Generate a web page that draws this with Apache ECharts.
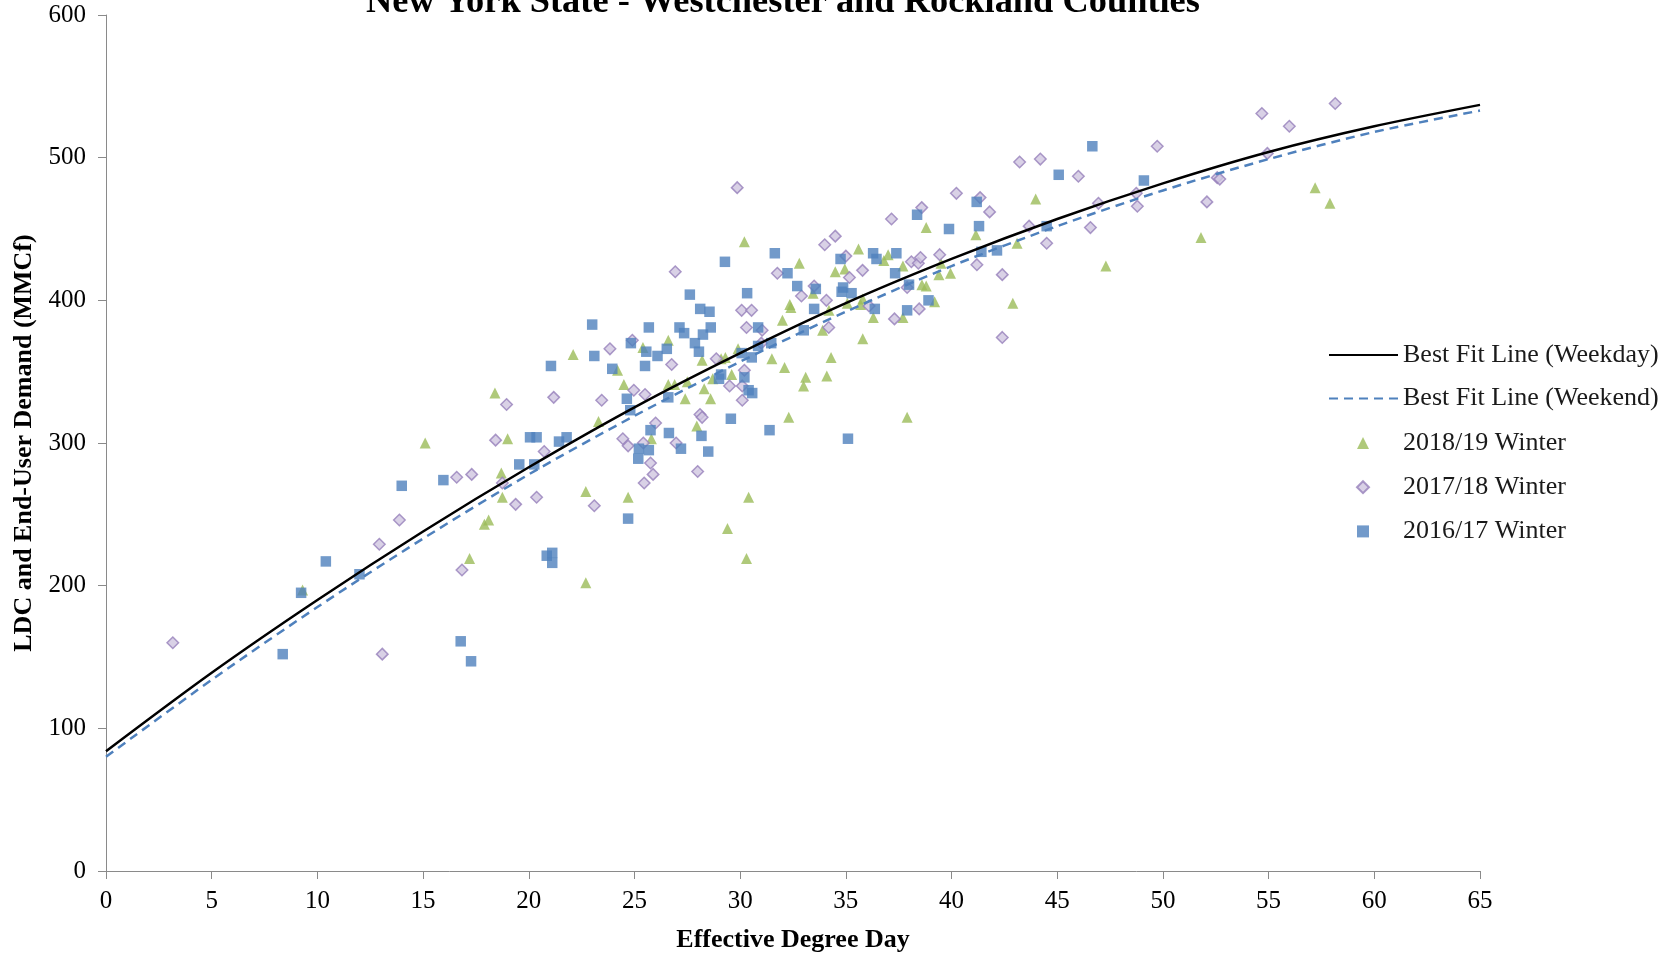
<!DOCTYPE html>
<html>
<head>
<meta charset="utf-8">
<script src="https://cdn.jsdelivr.net/npm/echarts@6/dist/echarts.min.js"></script>
<style>
html,body{margin:0;padding:0;background:#fff;}
#chart{width:1676px;height:955px;}
</style>
</head>
<body>
<div id="chart"></div>
<script>
const titleText = 'New York State - Westchester and Rockland Counties';
const xAxisName = 'Effective Degree Day';
const yAxisName = 'LDC and End-User Demand (MMCf)';
const seriesNames = ['Best Fit Line (Weekday)', 'Best Fit Line (Weekend)', '2018/19 Winter', '2017/18 Winter', '2016/17 Winter'];

// Best fit lines read at every 5 EDD
const fitEdd = [0, 5, 10, 15, 20, 25, 30, 35, 40, 45, 50, 55, 60, 65];
const fitWeekday = [84, 139, 190, 238, 283, 325, 363, 398, 429, 457, 482, 504, 522, 537];
const fitWeekend = [80, 134, 185, 233, 278, 319, 357, 392, 424, 452, 477, 499, 518, 533];

// 2018/19 Winter (triangles) [EDD, demand]
const winter1819 = [
  [9.3,197],[15.1,300],[17.2,219],[17.9,243],[18.1,246],[18.4,335],[18.7,279],[18.75,262],[19.0,303],
  [22.1,362],[22.7,202],[22.7,266],[23.3,315],[24.2,351],[24.5,341],[24.7,262],[25.4,367],[25.8,303],
  [26.6,372],[26.6,341],[26.9,341],[27.4,331],[27.5,343],[27.95,312],[28.2,358],[28.3,338],[28.6,331],
  [28.7,345],[29.1,359],[29.3,360],[29.4,240],[29.6,348],[29.9,366],[30.2,441],[30.3,219],[30.4,262],
  [31.5,359],[32.0,386],[32.1,353],[32.3,318],[32.35,397],[32.4,395],[32.8,426],[33.0,340],[33.1,346],
  [33.45,405],[33.9,379],[34.1,347],[34.2,393],[34.3,360],[34.5,420],[34.95,422],[35.07,398],[35.6,436],
  [35.7,397],[35.8,401],[35.8,373],[36.3,388],[36.8,428],[37.0,432],[37.7,424],[37.7,388],[37.9,318],
  [38.6,411],[38.8,410],[38.8,451],[39.2,399],[39.4,418],[39.5,426],[39.95,419],[41.15,446],[42.9,398],
  [43.1,440],[43.98,471],[47.3,424],[51.8,444],[57.2,479],[57.9,468]
];

// 2017/18 Winter (diamonds)
const winter1718 = [
  [3.16,160],[12.93,229],[13.07,152],[13.88,246],[16.59,276],[16.84,211],[17.3,278],[18.43,302],[18.75,272],
  [18.95,327],[19.38,257],[20.37,262],[20.73,294],[21.18,332],[23.1,256],[23.45,330],[23.84,366],[24.45,303],
  [24.7,298],[24.9,372],[24.97,337],[25.42,300],[25.46,272],[25.5,334],[25.76,286],[25.88,278],[26.0,314],
  [26.76,355],[26.93,420],[26.97,300],[27.99,280],[28.1,320],[28.2,318],[28.87,359],[29.5,340],[29.86,479],
  [30.07,393],[30.1,340],[30.1,330],[30.2,351],[30.3,381],[30.54,393],[31.0,370],[31.04,379],[31.76,419],
  [32.9,403],[33.5,410],[34.0,439],[34.08,400],[34.19,381],[34.5,445],[35.0,431],[35.17,416],[35.79,421],
  [36.1,396],[37.16,457],[37.3,387],[37.9,409],[38.1,427],[38.43,426],[38.47,394],[38.53,430],[38.59,465],
  [39.44,432],[40.23,475],[41.2,425],[41.35,472],[41.8,462],[42.4,418],[42.4,374],[43.22,497],[43.67,452],
  [44.2,499],[44.5,440],[46.0,487],[46.57,451],[46.95,468],[48.74,475],[48.79,466],[49.73,508],[52.08,469],
  [52.57,486],[52.69,485],[54.68,531],[54.94,503],[55.98,522],[58.15,538]
];

// 2016/17 Winter (squares)
const winter1617 = [
  [8.36,152],[9.23,195],[10.4,217],[11.99,208],[13.99,270],[15.96,274],[16.78,161],[17.27,147],[19.55,285],
  [20.06,304],[20.26,285],[20.37,304],[20.85,221],[21.05,354],[21.11,223],[21.11,216],[21.43,301],[21.79,304],
  [23.0,383],[23.1,361],[23.95,352],[24.64,331],[24.7,247],[24.8,323],[24.83,370],[25.18,289],[25.21,296],
  [25.5,354],[25.56,364],[25.68,381],[25.68,295],[25.76,309],[26.09,361],[26.53,366],[26.6,332],[26.63,307],
  [27.13,381],[27.2,296],[27.35,377],[27.62,404],[27.86,370],[28.05,364],[28.11,394],[28.17,305],[28.24,376],
  [28.49,294],[28.55,392],[28.61,381],[29.0,345],[29.1,348],[29.28,427],[29.56,317],[30.07,363],[30.2,346],
  [30.33,405],[30.4,337],[30.55,360],[30.57,335],[30.85,381],[30.85,368],[31.39,309],[31.47,370],[31.64,433],
  [32.24,419],[32.7,410],[33.01,379],[33.5,394],[33.58,408],[34.75,429],[34.8,406],[34.87,409],[35.1,303],
  [35.27,405],[36.29,433],[36.37,394],[36.45,429],[37.33,419],[37.39,433],[37.9,393],[37.99,411],[38.37,460],
  [38.91,400],[39.88,450],[41.19,469],[41.3,452],[41.41,434],[42.15,435],[44.5,452],[45.07,488],[46.66,508],
  [49.1,484]
];

const FONT = 'Liberation Serif';
const chart = echarts.init(document.getElementById('chart'), null, {renderer: 'canvas'});

const fitLine = (vals) => fitEdd.map((x, i) => [x, vals[i]]);

chart.setOption({
  animation: false,
  backgroundColor: '#ffffff',
  title: {
    text: titleText,
    left: 366,
    top: -15,
    padding: 0,
    textStyle: {fontFamily: FONT, fontSize: 36.4, fontWeight: 'bold', color: '#000'}
  },
  grid: {left: 106, right: 196, top: 15, bottom: 84, containLabel: false, outerBoundsMode: 'none'},
  legend: [
    {
      orient: 'vertical', left: 1328, top: 342, padding: 0,
      itemWidth: 69, itemHeight: 14, itemGap: 17.5,
      data: [
        {name: seriesNames[0], itemStyle: {opacity: 0}},
        {name: seriesNames[1], itemStyle: {opacity: 0}}
      ],
      textStyle: {fontFamily: FONT, fontSize: 26, color: '#1a1a1a', lineHeight: 26}
    },
    {
      orient: 'vertical', left: 1356, top: 430, padding: 0,
      itemWidth: 12, itemHeight: 12, itemGap: 18.2,
      data: [
        {name: seriesNames[2], icon: 'triangle'},
        {name: seriesNames[3], icon: 'diamond'},
        {name: seriesNames[4], icon: 'rect'}
      ],
      textStyle: {fontFamily: FONT, fontSize: 26, color: '#1a1a1a', lineHeight: 26, padding: [0, 0, 0, 29]}
    }
  ],
  xAxis: {
    type: 'value', min: 0, max: 65, interval: 5,
    name: xAxisName, nameLocation: 'middle', nameGap: 56,
    nameTextStyle: {fontFamily: FONT, fontSize: 26, fontWeight: 'bold', color: '#000'},
    axisLine: {show: true, lineStyle: {color: '#8a8a8a', width: 1}},
    axisTick: {show: true, inside: false, length: 8, lineStyle: {color: '#8a8a8a'}},
    axisLabel: {fontFamily: FONT, fontSize: 25, color: '#000', margin: 18},
    splitLine: {show: false}
  },
  yAxis: {
    type: 'value', min: 0, max: 600, interval: 100,
    name: yAxisName, nameLocation: 'middle', nameGap: 68, nameRotate: 90,
    nameTextStyle: {fontFamily: FONT, fontSize: 26, fontWeight: 'bold', color: '#000'},
    axisLine: {show: true, lineStyle: {color: '#8a8a8a', width: 1}},
    axisTick: {show: true, inside: false, length: 8, lineStyle: {color: '#8a8a8a'}},
    axisLabel: {fontFamily: FONT, fontSize: 25, color: '#000', margin: 20},
    splitLine: {show: false}
  },
  series: [
    {
      name: seriesNames[2], type: 'scatter', data: winter1819,
      symbol: 'triangle', symbolSize: 11,
      itemStyle: {color: '#9BBB59'}
    },
    {
      name: seriesNames[3], type: 'scatter', data: winter1718,
      symbol: 'diamond', symbolSize: 11.5,
      itemStyle: {color: '#D0C6E0', borderColor: '#9680BA', borderWidth: 1.5}
    },
    {
      name: seriesNames[4], type: 'scatter', data: winter1617,
      symbol: 'rect', symbolSize: 10.5,
      itemStyle: {color: '#4F81BD'}
    },
    {
      name: seriesNames[1], type: 'line', data: fitLine(fitWeekend),
      symbol: 'none', smooth: 0.3, z: 3,
      lineStyle: {color: '#4F81BD', width: 2.5, type: [9, 6]},
      itemStyle: {color: '#4F81BD'}
    },
    {
      name: seriesNames[0], type: 'line', data: fitLine(fitWeekday),
      symbol: 'none', smooth: 0.3, z: 3,
      lineStyle: {color: '#000', width: 2.5},
      itemStyle: {color: '#000'}
    }
  ]
});
</script>
</body>
</html>
